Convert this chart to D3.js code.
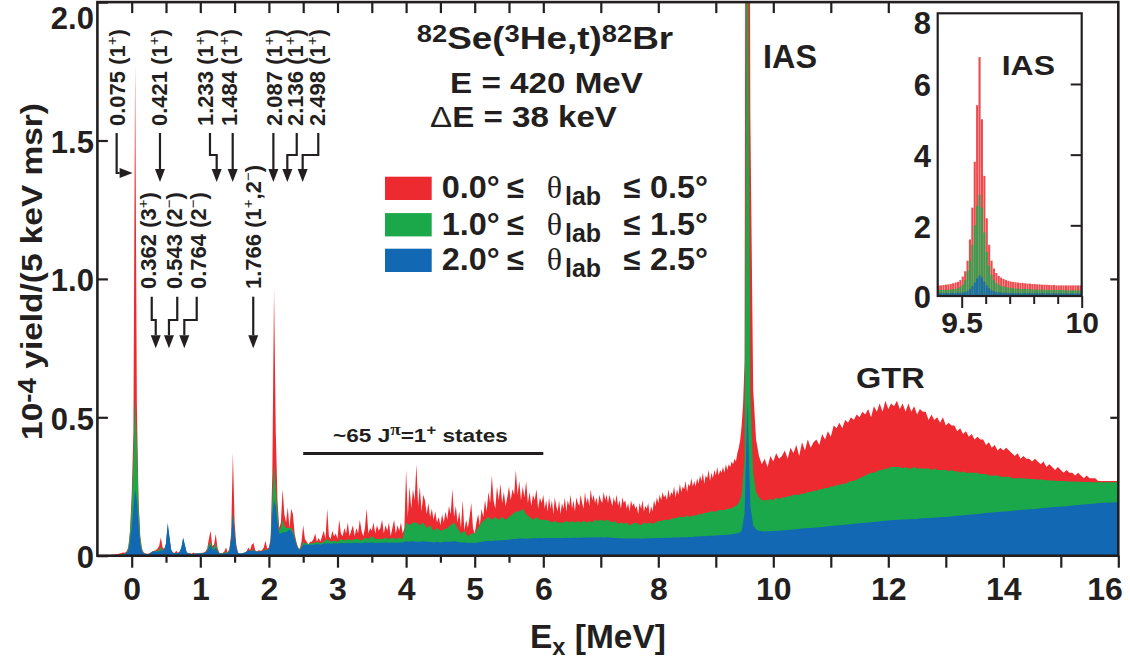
<!DOCTYPE html>
<html><head><meta charset="utf-8">
<script src="https://cdn.jsdelivr.net/npm/d3@7"></script>
<style>
html,body{margin:0;padding:0;background:#fff;}
svg{display:block;}
</style></head><body>
<svg id="chart" width="1130" height="661"></svg>
<script>
// ---------------- DATA ----------------
// Low-energy part of the spectrum: bins from -0.5 MeV, 25 keV apart (all three angle cuts)
const lowStart = -0.5, lowStep = 0.025;
const redLow = [
0,0,0,0,0,0,.002,.002,.003,.003,
.004,.005,.006,.008,.01,.012,.011,.015,.03,.09,
.22,.45,1.78,.55,.2,.07,.025,.012,.008,.007,
.008,.012,.015,.018,.02,.025,.035,.066,.03,.025,
.04,.1,.06,.02,.012,.01,.018,.01,.014,.028,
.06,.035,.012,.008,.01,.007,.012,.008,.01,.008,
.009,.01,.012,.015,.025,.06,.09,.035,.04,.078,
.03,.012,.009,.01,.015,.03,.012,.025,.08,.373,
.12,.04,.012,.008,.008,.01,.012,.015,.03,.02,
.04,.046,.02,.015,.02,.018,.02,.03,.054,.025,
.03,.06,.3,.964,.45,.2,.1,.12,.24,.15,
.12,.175,.1,.17,.15,.08,.05,.03,.025,.05,
.11,.06,.05,.04,.05];
const greenLow = [
0,0,0,0,0,0,0,0,.001,.001,
.002,.002,.003,.004,.005,.006,.008,.012,.025,.08,
.18,.35,.57,.42,.18,.06,.02,.01,.007,.006,
.006,.01,.014,.016,.017,.018,.022,.032,.02,.022,
.042,.11,.065,.02,.011,.009,.01,.009,.013,.028,
.062,.037,.012,.008,.007,.006,.007,.007,.008,.008,
.008,.009,.01,.012,.02,.04,.05,.03,.03,.045,
.02,.01,.008,.008,.01,.015,.01,.022,.06,.157,
.08,.03,.01,.008,.008,.01,.011,.014,.02,.016,
.02,.022,.016,.014,.015,.016,.017,.018,.025,.02,
.025,.05,.2,.33,.25,.16,.09,.1,.13,.11,
.1,.1,.1,.1,.09,.07,.045,.028,.022,.035,
.05,.045,.045,.042,.045];
const blueLow = [
0,0,0,0,0,0,0,0,0,.001,
.001,.001,.002,.002,.003,.004,.006,.01,.02,.05,
.1,.17,.24,.2,.11,.04,.015,.008,.006,.005,
.005,.01,.014,.016,.015,.014,.016,.02,.018,.022,
.045,.12,.07,.022,.011,.009,.009,.01,.015,.03,
.066,.04,.013,.008,.007,.006,.007,.007,.008,.008,
.008,.009,.01,.012,.016,.03,.04,.025,.02,.03,
.015,.008,.007,.007,.008,.01,.01,.02,.06,.15,
.08,.025,.01,.008,.008,.01,.012,.015,.02,.016,
.018,.02,.016,.014,.015,.016,.017,.018,.02,.02,
.025,.05,.15,.2,.18,.12,.08,.08,.085,.085,
.085,.09,.095,.09,.08,.06,.04,.025,.02,.03,
.04,.04,.04,.04,.04];

// 0.0-0.5 deg cut, 2.625-9.475 MeV, 25 keV apart (many narrow 1+ states)
const redMidStart = 2.625, redMidStep = 0.025;
const redMid = [
.05,.06,.08,.05,.065,.05,.07,.09,.06,.17, .07,.06,.09,.07,.08,.06,.13,.08,.07,.1,
.08,.12,.07,.09,.11,.07,.1,.08,.13,.09, .07,.1,.17,.08,.1,.09,.12,.08,.11,.09,
.1,.13,.08,.11,.09,.12,.07,.1,.13,.08, .11,.09,.12,.08,.1,.31,.14,.25,.17,.24,
.2,.33,.18,.25,.16,.22,.2,.15,.19,.14, .17,.13,.16,.12,.14,.11,.15,.12,.16,.13,
.18,.15,.24,.14,.18,.12,.16,.1,.2,.09, .13,.1,.14,.19,.1,.08,.12,.15,.11,.17,
.14,.2,.16,.23,.19,.29,.2,.17,.25,.2, .26,.19,.23,.18,.21,.25,.2,.24,.22,.31,
.22,.27,.2,.25,.21,.27,.19,.23,.18,.22, .2,.24,.17,.21,.19,.22,.17,.2,.16,.21,
.17,.2,.15,.21,.18,.16,.2,.15,.19,.17, .21,.16,.2,.18,.22,.17,.2,.16,.21,.19,
.18,.22,.19,.17,.23,.19,.21,.18,.24,.2, .22,.19,.21,.18,.22,.2,.19,.23,.2,.22,
.19,.22,.2,.18,.21,.19,.22,.18,.2,.17, .21,.19,.2,.17,.19,.16,.2,.18,.19,.17,
.18,.15,.19,.17,.2,.16,.18,.17,.19,.15, .18,.16,.2,.18,.21,.19,.22,.2,.23,.21,
.22,.2,.24,.21,.23,.22,.25,.21,.24,.22, .26,.23,.25,.24,.27,.23,.26,.25,.28,.25,
.27,.25,.28,.26,.29,.27,.3,.26,.29,.28, .31,.27,.3,.28,.31,.29,.32,.29,.31,.3,
.32,.3,.33,.31,.33,.32,.34,.33,.35,.34, .37,.39,.42,.47,.55];
// 0.0-0.5 deg cut, 9.5-16 MeV, 50 keV apart (IAS + GTR)
const redHighStart = 9.5, redHighStep = 0.05;
const redHigh = [
.7,6.76,1.6,
.6,.42,.36,.33,.35,.32,.36,.34,.37,.35,
.36,.38,.35,.39,.37,.4,.36,.41,.38,.42,
.39,.41,.42,.4,.44,.42,.45,.43,.47,.46,
.48,.46,.49,.48,.5,.49,.51,.5,.52,.51,
.53,.5,.54,.52,.55,.52,.56,.53,.55,.54,
.56,.53,.55,.52,.55,.52,.54,.51,.53,.52,
.52,.49,.51,.49,.5,.48,.5,.47,.48,.47,
.47,.45,.46,.44,.45,.43,.44,.42,.43,.42,
.42,.4,.41,.39,.4,.38,.39,.38,.39,.38,
.37,.36,.37,.35,.36,.35,.35,.34,.35,.34,
.33,.34,.32,.33,.32,.31,.32,.31,.3,.31,
.3,.3,.29,.3,.29,.28,.29,.28,.28,.28,
.27,.27,.27,.27,.27,.27,.27,.27];

// 1.0-1.5 and 2.0-2.5 deg cuts, 2.65-16 MeV, 50 keV apart
const highStart = 2.65, highStep = 0.05;
const greenHigh = [
.045,.05,.045,.05,.06,.05,.055,.05,.06,.055,
.06,.055,.06,.06,.055,.065,.06,.07,.06,.06,
.06,.065,.06,.065,.06,.065,.06,.12,.11,.12,
.12,.11,.12,.1,.11,.09,.1,.09,.095,.1,
.11,.12,.1,.08,.09,.07,.08,.08,.1,.12,
.13,.14,.13,.14,.13,.14,.13,.14,.15,.16,
.16,.17,.15,.14,.13,.14,.13,.13,.13,.125,
.12,.125,.12,.12,.12,.125,.12,.125,.12,.125,
.12,.125,.12,.125,.12,.13,.125,.13,.125,.13,
.125,.12,.125,.115,.12,.115,.12,.11,.115,.12,
.115,.11,.12,.115,.12,.115,.12,.125,.125,.13,
.13,.13,.135,.135,.14,.14,.14,.145,.14,.145,
.145,.15,.15,.155,.155,.16,.16,.16,.165,.165,
.165,.17,.17,.175,.18,.19,.22,.35,2.87,.6,
.3,.23,.21,.2,.2,.2,.205,.2,.21,.205,
.21,.21,.215,.215,.22,.22,.22,.225,.225,.23,
.23,.235,.235,.24,.24,.245,.245,.25,.25,.255,
.255,.26,.26,.265,.27,.27,.275,.28,.285,.29,
.295,.3,.3,.305,.31,.31,.315,.315,.32,.32,
.32,.32,.315,.32,.315,.315,.32,.315,.315,.315,
.315,.315,.31,.315,.31,.31,.31,.31,.305,.31,
.305,.305,.3,.305,.3,.3,.3,.3,.3,.295,
.295,.295,.29,.29,.29,.29,.285,.285,.285,.285,
.28,.28,.28,.28,.28,.278,.278,.277,.276,.275,
.275,.274,.273,.272,.272,.271,.27,.27,.27,.269,
.268,.268,.267,.267,.267,.266,.266,.266,.265,.265,
.265,.265,.265,.265,.265,.265,.265,.265];
const blueHigh = [
.04,.042,.04,.044,.045,.043,.045,.044,.046,.045,
.046,.045,.047,.046,.045,.048,.047,.048,.046,.047,
.047,.048,.047,.048,.047,.048,.048,.052,.05,.052,
.05,.05,.052,.05,.05,.048,.05,.048,.05,.05,
.05,.052,.05,.048,.048,.046,.047,.046,.048,.05,
.052,.054,.053,.055,.055,.056,.057,.058,.06,.06,
.062,.062,.061,.062,.063,.063,.064,.063,.064,.064,
.064,.064,.063,.064,.064,.065,.064,.065,.065,.065,
.065,.066,.065,.066,.066,.067,.066,.067,.066,.067,
.066,.065,.064,.063,.063,.062,.062,.062,.062,.062,
.062,.062,.062,.063,.063,.063,.064,.064,.064,.065,
.065,.065,.066,.066,.066,.067,.067,.067,.068,.068,
.069,.069,.07,.07,.071,.072,.072,.073,.074,.075,
.075,.076,.077,.078,.08,.082,.09,.15,.556,.18,
.11,.095,.09,.088,.087,.088,.088,.089,.09,.09,
.091,.092,.093,.094,.095,.096,.097,.098,.099,.1,
.1,.101,.102,.103,.104,.105,.106,.107,.108,.109,
.11,.111,.112,.113,.114,.115,.116,.117,.118,.119,
.12,.121,.122,.123,.124,.125,.126,.127,.128,.129,
.13,.13,.131,.131,.132,.132,.133,.133,.134,.135,
.135,.136,.137,.137,.138,.139,.14,.14,.141,.142,
.143,.144,.145,.146,.147,.148,.149,.15,.151,.152,
.153,.154,.155,.156,.157,.158,.159,.16,.16,.161,
.162,.163,.164,.165,.166,.167,.168,.168,.169,.17,
.171,.172,.173,.174,.175,.176,.177,.178,.178,.179,
.18,.181,.182,.183,.184,.185,.186,.187,.188,.189,
.19,.19,.191,.191,.192,.192,.193,.193];

// Inset (IAS region): bins from 9.40 MeV, 10 keV apart
const insetStart = 9.40, insetStep = 0.01;
const insetRed = [
.3,.3,.31,.32,.33,.34,.36,.38,.4,.45,
.55,.7,1.0,1.6,2.5,3.8,5.4,6.76,5.0,3.4,
2.2,1.45,1.0,.78,.65,.57,.52,.48,.45,.43,
.41,.4,.39,.38,.37,.37,.36,.35,.35,.34,
.34,.33,.33,.32,.32,.32,.31,.31,.31,.3,
.3,.3,.3,.3,.3,.3,.3,.3,.3,.3,.3];
const insetGreen = [
.17,.17,.17,.17,.18,.18,.19,.2,.22,.26,
.32,.45,.7,1.0,1.45,2.0,2.55,2.87,2.5,1.8,
1.25,.85,.6,.45,.37,.32,.29,.27,.25,.24,
.23,.22,.21,.21,.2,.2,.2,.19,.19,.19,
.18,.18,.18,.18,.18,.17,.17,.17,.17,.17,
.17,.17,.17,.16,.16,.16,.16,.16,.16,.16,.16];
const insetBlue = [
.08,.08,.08,.08,.08,.08,.085,.085,.09,.09,
.1,.11,.14,.2,.28,.38,.5,.58,.52,.4,
.3,.22,.16,.13,.11,.1,.095,.09,.09,.085,
.085,.085,.08,.08,.08,.08,.08,.08,.08,.08,
.08,.078,.078,.078,.078,.076,.076,.076,.076,.076,
.075,.075,.075,.075,.075,.075,.075,.075,.075,.075,.075];

// Axis ticks and labels
const xMajorTicks = [0,1,2,3,4,5,6,7,8,9,10,11,12,13,14,15,16];
const xMinorTicks = [0.5,1.5,2.5,3.5,4.5,5.5];
const xTickLabels = [0,1,2,3,4,5,6,8,10,12,14,16];
const yTicks = [0,0.5,1.0,1.5,2.0];
const insetYTicks = [0,2,4,6,8];
const insetXMajor = [9.5,10];
const insetXMinor = [9.6,9.7,9.8,9.9];

// Legend (angle ranges)
const angleRanges = [[0.0,0.5],[1.0,1.5],[2.0,2.5]];
const seriesColors = ["#ec2a2f","#1ba84b","#1268b3"];

// Identified states
const stateEnergies = [0.075,0.421,1.233,1.484,2.087,2.136,2.498,0.362,0.543,0.764,1.766];
const stateSpins    = ["1+","1+","1+","1+","1+","1+","1+","3+","2-","2-","1+,2-"];
const bandRange = [2.5, 6.0];

// ---------------- DRAWING ----------------
const C = "#231f20";
const FONT = '"Liberation Sans", Arial, Helvetica, sans-serif';
const SERIF = '"Liberation Serif", "Times New Roman", serif';
const svg = d3.select("#chart");

const X0 = 97.4, X1 = 1118.3, Y0 = 555.7, Y1 = 2.1;
const x = d3.scaleLinear().domain([-0.5, 6, 16]).range([X0, 543.3, X1]);
const y = d3.scaleLinear().domain([0, 2]).range([Y0, Y1]);

function bins(start, step, values){ return values.map((v,i)=>({E: start + i*step, v})); }
const seriesPts = [
  bins(lowStart,lowStep,redLow).concat(bins(redMidStart,redMidStep,redMid), bins(redHighStart,redHighStep,redHigh)),
  bins(lowStart,lowStep,greenLow).concat(bins(highStart,highStep,greenHigh)),
  bins(lowStart,lowStep,blueLow).concat(bins(highStart,highStep,blueHigh))
];

const defs = svg.append("defs");
defs.append("clipPath").attr("id","plotClip").append("rect")
  .attr("x",X0).attr("y",Y1).attr("width",X1-X0).attr("height",Y0-Y1);

const gA = svg.append("g").attr("clip-path","url(#plotClip)");
seriesPts.forEach((pts,i)=>{
  gA.append("path").datum(pts).attr("fill",seriesColors[i])
    .attr("d", d3.area().x(d=>x(d.E)).y0(y(0)).y1(d=>y(d.v)));
});

function styleText(sel, size){
  sel.attr("font-size",size).attr("font-family",FONT).attr("font-weight","bold").attr("fill",C);
}
function styleAxis(g, w){
  g.select(".domain").remove();
  g.selectAll(".tick line").attr("stroke",C).attr("stroke-width",w);
}

// bottom axis
const gx = svg.append("g").attr("transform",`translate(0,${Y0})`)
  .call(d3.axisBottom(x).tickValues(xMajorTicks).tickSize(12).tickPadding(9.5)
    .tickFormat(d => xTickLabels.includes(d) ? d : ""));
styleAxis(gx, 2.2);
styleText(gx.selectAll("text"), 32);
gx.selectAll("text").filter(d=>d===16).attr("text-anchor","end").attr("x",4);
const gxm = svg.append("g").attr("transform",`translate(0,${Y0})`)
  .call(d3.axisBottom(x).tickValues(xMinorTicks).tickSize(7).tickFormat(""));
styleAxis(gxm, 2.2);

// top ticks (inward)
const topTicks = xMajorTicks.concat(xMinorTicks).filter(d => d <= 12.5);
const gt = svg.append("g").attr("transform",`translate(0,${Y1})`)
  .call(d3.axisTop(x).tickValues(topTicks).tickSize(-11).tickFormat(""));
styleAxis(gt, 2.2);

// left axis (inward ticks)
const gy = svg.append("g").attr("transform",`translate(${X0},0)`)
  .call(d3.axisLeft(y).tickValues(yTicks).tickSize(-10.5).tickPadding(3.5)
    .tickFormat(d => d===0 ? "0" : d.toFixed(1)));
styleAxis(gy, 2.2);
styleText(gy.selectAll("text"), 31);
gy.selectAll("text").attr("dy","0.38em");
gy.selectAll("text").filter(d=>d===2).attr("y",14.5);

// right ticks
const gr = svg.append("g").attr("transform",`translate(${X1},0)`)
  .call(d3.axisRight(y).tickValues([0.5,1.0]).tickSize(-8).tickFormat(""));
styleAxis(gr, 2.2);

// fit text horizontally to a measured width
function fitText(sel, x0, w){
  const bb = sel.node().getBBox();
  sel.attr("transform", `translate(${x0},0) scale(${w/bb.width},1) translate(${-bb.x},0)`);
}

// axis titles
const xt = svg.append("text").attr("y",648);
styleText(xt, 34);
xt.append("tspan").text("E");
xt.append("tspan").attr("font-size",24).attr("dy",7).text("x");
xt.append("tspan").attr("dy",-7).text(" [MeV]");
fitText(xt, 530, 136);

const gyt = svg.append("g").attr("transform","translate(41.5,271.5) rotate(-90)");
const yt = gyt.append("text").attr("text-anchor","middle");
styleText(yt, 30);
yt.append("tspan").text("10");
yt.append("tspan").attr("font-size",25).attr("dy",-6).text("-4");
yt.append("tspan").attr("dy",6).text(" yield/(5 keV msr)");
fitText(yt, -168.5, 337);

// reaction title
const t1 = svg.append("text").attr("y",49.5); styleText(t1, 31);
t1.append("tspan").attr("font-size",23).attr("dy",-7).text("82");
t1.append("tspan").attr("dy",7).text("Se(");
t1.append("tspan").attr("font-size",23).attr("dy",-7).text("3");
t1.append("tspan").attr("dy",7).text("He,t)");
t1.append("tspan").attr("font-size",23).attr("dy",-7).text("82");
t1.append("tspan").attr("dy",7).text("Br");
fitText(t1, 416.7, 256.6);
const t2 = svg.append("text").attr("y",93.3).text("E = 420 MeV"); styleText(t2, 30);
fitText(t2, 450, 193);
const t3 = svg.append("text").attr("y",126.7); styleText(t3, 30);
t3.append("tspan").attr("font-weight","normal").text("\u0394");
t3.append("tspan").text("E = 38 keV");
fitText(t3, 430, 187);

// legend
const legBase = [198.3, 234.7, 270.3];
angleRanges.forEach((rg,i)=>{
  const by = legBase[i];
  svg.append("rect").attr("x",385).attr("y",by-21.6).attr("width",46.7).attr("height",23.3)
    .attr("fill",seriesColors[i]);
  const a = svg.append("text").attr("y",by).text(rg[0].toFixed(1)+"\u00b0"); styleText(a,31); fitText(a,441.7,58);
  const l1 = svg.append("text").attr("x",506.7).attr("y",by).text("\u2264"); styleText(l1,31);
  svg.append("text").attr("x",546.7).attr("y",by).text("\u03b8")
    .attr("font-size",32).attr("font-family",SERIF).attr("fill",C);
  const lab = svg.append("text").attr("x",565).attr("y",by+7).text("lab"); styleText(lab,25);
  const l2 = svg.append("text").attr("x",623.3).attr("y",by).text("\u2264"); styleText(l2,31);
  const b = svg.append("text").attr("y",by).text(rg[1].toFixed(1)+"\u00b0"); styleText(b,31); fitText(b,650,58);
});

// IAS / GTR labels
const ias = svg.append("text").attr("y",68).text("IAS"); styleText(ias,33); fitText(ias,763,54);
const gtr = svg.append("text").attr("y",388).text("GTR"); styleText(gtr,30); fitText(gtr,856,69);

// ~65 states band
const band = svg.append("text").attr("y",442); styleText(band,19);
band.append("tspan").text("~65 J");
band.append("tspan").attr("font-family",SERIF).attr("font-size",16).attr("dy",-7).text("\u03c0");
band.append("tspan").attr("dy",7).text("=1");
band.append("tspan").attr("font-size",14).attr("dy",-7).text("+");
band.append("tspan").attr("dy",7).text(" states");
fitText(band,333,175);
svg.append("line").attr("x1",x(bandRange[0])).attr("x2",x(bandRange[1]))
  .attr("y1",453.5).attr("y2",453.5).attr("stroke",C).attr("stroke-width",3);

// state annotations (layout offsets in px relative to the arrow tip)
const annLayout = [
  {row:"top", side:true, tipDx:-4.2, lineDx:-16, labelDx:-16},
  {row:"top", tipDx:-0.6, lineDx:0, labelDx:-0.5},
  {row:"top", tipDx:0.4, lineDx:-6.7, labelDx:-11.2},
  {row:"top", tipDx:-0.8, lineDx:0, labelDx:-3.2},
  {row:"top", tipDx:-1.5, lineDx:0, labelDx:0.6},
  {row:"top", tipDx:9.1, lineDx:9.4, labelDx:8.2},
  {row:"top", tipDx:-0.4, lineDx:15.6, labelDx:14.8},
  {row:"bot", tipDx:-0.8, lineDx:-4, labelDx:-7.4},
  {row:"bot", tipDx:0, lineDx:8.3, labelDx:5.5},
  {row:"bot", tipDx:0.2, lineDx:12.4, labelDx:13.7},
  {row:"bot", tipDx:0.4, lineDx:0, labelDx:0}
];
const rows = {
  top:{labelY:126, y0:133, yJog:155, tipY:182},
  bot:{labelY:289, y0:296.7, yJog:320, tipY:348.3}
};
const HL = 13, HW = 5;
const gAnn = svg.append("g");
stateEnergies.forEach((E,i)=>{
  const L = annLayout[i], R = rows[L.row];
  const tipX = x(E) + L.tipDx;
  const lineX = tipX + L.lineDx;
  const labelX = tipX + L.labelDx;
  let d, head;
  if (L.side){
    const yy = 173;
    d = `M${lineX},${R.y0}V${yy}H${tipX-HL}`;
    head = [[tipX-HL,yy-HW],[tipX-HL,yy+HW],[tipX,yy]];
  } else if (Math.abs(lineX-tipX) > 0.5){
    d = `M${lineX},${R.y0}V${R.yJog}H${tipX}V${R.tipY-HL}`;
    head = [[tipX-HW,R.tipY-HL],[tipX+HW,R.tipY-HL],[tipX,R.tipY]];
  } else {
    d = `M${tipX},${R.y0}V${R.tipY-HL}`;
    head = [[tipX-HW,R.tipY-HL],[tipX+HW,R.tipY-HL],[tipX,R.tipY]];
  }
  gAnn.append("path").attr("d",d).attr("fill","none").attr("stroke",C).attr("stroke-width",2.2);
  gAnn.append("polygon").attr("points",head.map(p=>p.join(",")).join(" ")).attr("fill",C);

  const t = gAnn.append("text").attr("transform",`translate(${labelX+7.9},${R.labelY}) rotate(-90)`);
  styleText(t, 22);
  const tokens = [{s:E.toFixed(3)+" (", sup:false}];
  for (const ch of stateSpins[i]) {
    if (ch==="+" || ch==="-") tokens.push({s: ch==="+" ? "+" : "\u2212", sup:true});
    else tokens.push({s:ch, sup:false});
  }
  tokens.push({s:")", sup:false});
  let prevSup = false;
  tokens.forEach(tk=>{
    const ts = t.append("tspan").text(tk.s);
    if (tk.sup) { ts.attr("font-size",15).attr("font-weight","normal"); if(!prevSup) ts.attr("dy",-8); }
    else if (prevSup) ts.attr("dy",8);
    prevSup = tk.sup;
  });
});

// ---------------- INSET ----------------
svg.append("rect").attr("x",895).attr("y",4.5).attr("width",211).attr("height",340).attr("fill","#fff");
const IX0 = 937.7, IX1 = 1081.7, IY0 = 296, IY1 = 13.3;
const xi = d3.scaleLinear().domain([9.4, 10]).range([IX0, IX1]);
const yi = d3.scaleLinear().domain([0, 8]).range([IY0, IY1]);
defs.append("clipPath").attr("id","insetClip").append("rect")
  .attr("x",IX0).attr("y",IY1).attr("width",IX1-IX0).attr("height",IY0-IY1);
const insetSeries = [insetRed, insetGreen, insetBlue];
const gI = svg.append("g").attr("clip-path","url(#insetClip)");
insetSeries.forEach((vals,si)=>{
  gI.append("g").selectAll("rect").data(bins(insetStart, insetStep, vals)).join("rect")
    .attr("x", d=>xi(d.E))
    .attr("width", d=>Math.max(0.5, xi(d.E+insetStep)-xi(d.E)-0.3))
    .attr("y", d=>yi(d.v))
    .attr("height", d=>yi(0)-yi(d.v))
    .attr("fill", seriesColors[si]).attr("fill-opacity",0.85);
});
const giy = svg.append("g").attr("transform",`translate(${IX0},0)`)
  .call(d3.axisLeft(yi).tickValues(insetYTicks).tickSize(0).tickPadding(6.7).tickFormat(d=>d));
styleAxis(giy, 2);
styleText(giy.selectAll("text"), 31);
giy.selectAll("text").attr("dy","0.38em");
giy.selectAll("text").filter(d=>d===8).attr("y",8.2);
const gir = svg.append("g").attr("transform",`translate(${IX1},0)`)
  .call(d3.axisRight(yi).tickValues([2,4,6]).tickSize(-11).tickFormat(""));
styleAxis(gir, 2);
const gix = svg.append("g").attr("transform",`translate(0,${IY0})`)
  .call(d3.axisBottom(xi).tickValues(insetXMajor).tickSize(12).tickPadding(3.7).tickFormat(d=>d));
styleAxis(gix, 2);
styleText(gix.selectAll("text"), 30);
const gixm = svg.append("g").attr("transform",`translate(0,${IY0})`)
  .call(d3.axisBottom(xi).tickValues(insetXMinor).tickSize(8).tickFormat(""));
styleAxis(gixm, 2);
svg.append("rect").attr("x",IX0).attr("y",IY1).attr("width",IX1-IX0).attr("height",IY0-IY1)
  .attr("fill","none").attr("stroke",C).attr("stroke-width",2.2);
const iasI = svg.append("text").attr("y",75).text("IAS"); styleText(iasI,28); fitText(iasI,1001.7,53.3);

// main frame
svg.append("rect").attr("x",X0).attr("y",Y1).attr("width",X1-X0).attr("height",Y0-Y1)
  .attr("fill","none").attr("stroke",C).attr("stroke-width",2.6);
</script>
</body></html>
